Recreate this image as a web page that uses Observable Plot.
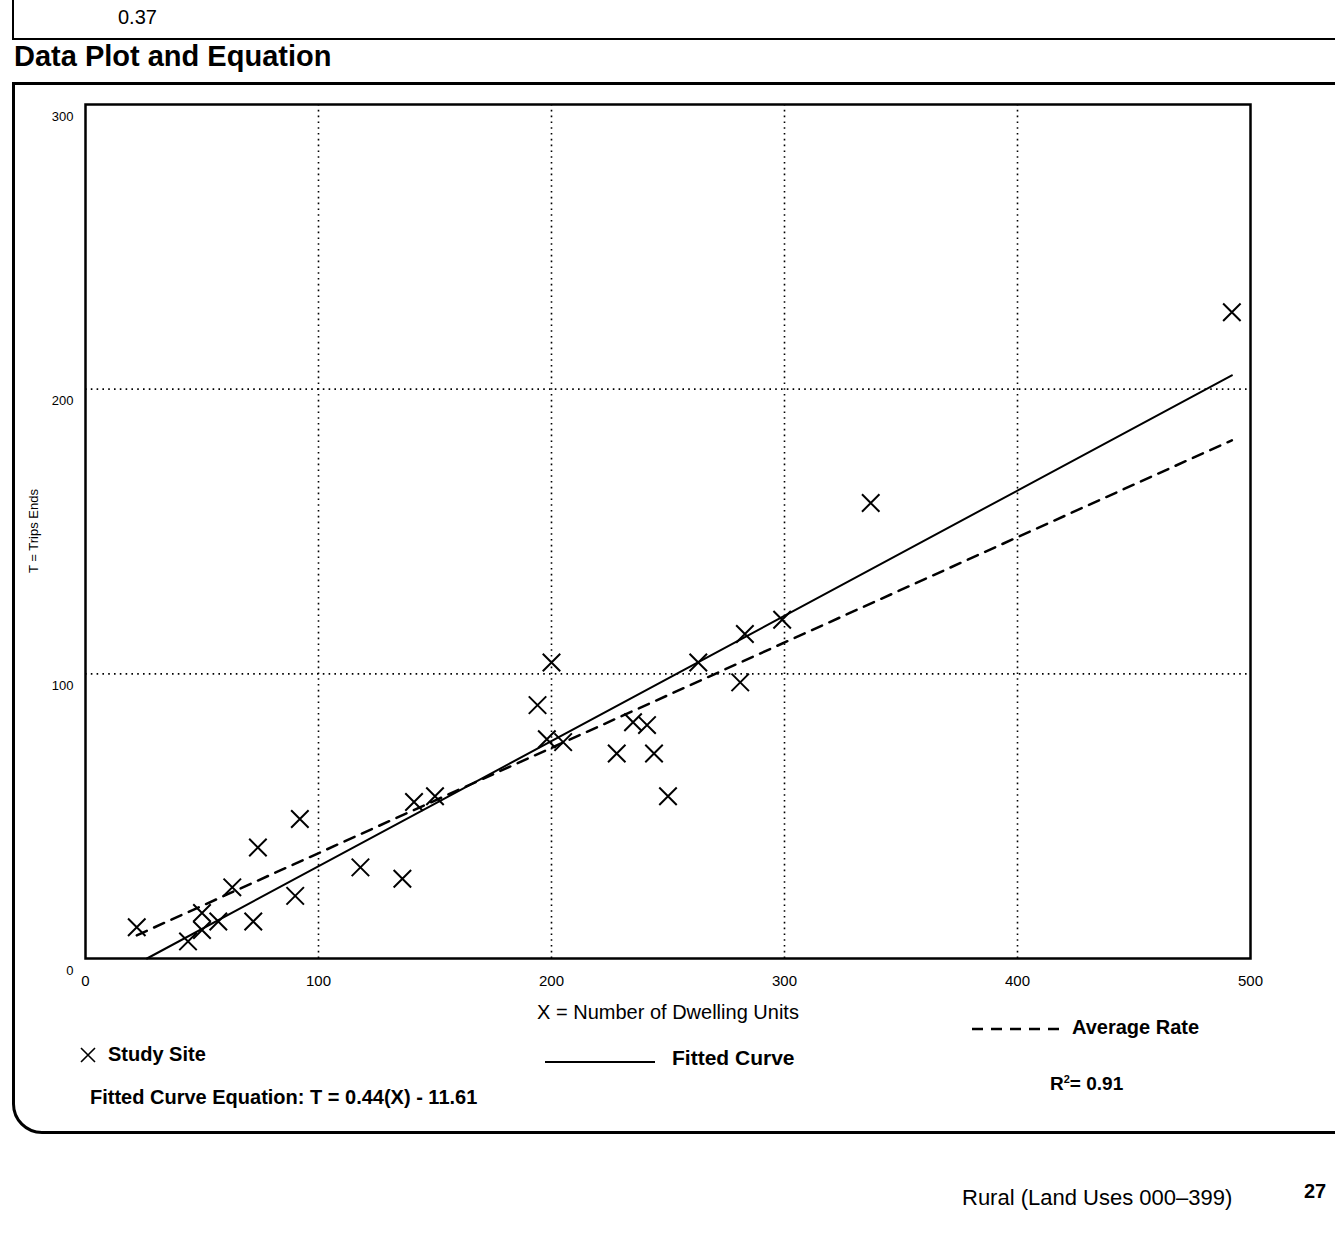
<!DOCTYPE html>
<html>
<head>
<meta charset="utf-8">
<script src="https://cdn.jsdelivr.net/npm/d3@7"></script>
<script src="https://cdn.jsdelivr.net/npm/@observablehq/plot@0.6"></script>
<style>
  html, body { margin: 0; padding: 0; background: #fff; }
  #page { position: relative; width: 1335px; height: 1233px; overflow: hidden; background: #fff;
          font-family: "Liberation Sans", Arial, Helvetica, sans-serif; color: #000; }
  .abs { position: absolute; white-space: nowrap; }
  .b { font-weight: bold; }
</style>
</head>
<body>
<div id="page">
  <div class="abs" style="left:12px;top:0;width:2px;height:40px;background:#000"></div>
  <div class="abs" style="left:12px;top:38px;width:1323px;height:2px;background:#000"></div>
  <div class="abs" id="rateTop" style="left:118px;top:6px;font-size:20px;"></div>
  <div class="abs b" style="left:14px;top:40px;font-size:29px;">Data Plot and Equation</div>
  <div class="abs" style="left:12px;top:82px;width:1400px;height:1046px;border:3px solid #000;border-radius:0 0 0 30px;"></div>
  <div class="abs" id="chart" style="left:0;top:0;"></div>
  <div class="abs" style="left:33px;top:531px;font-size:13px;transform:translate(-50%,-50%) rotate(-90deg);">T = Trips Ends</div>
  <div class="abs" style="left:668px;top:1012px;font-size:20px;transform:translate(-50%,-50%);">X = Number of Dwelling Units</div>
  <div class="abs" style="left:80px;top:1043px;font-size:20px;display:flex;align-items:center;gap:12px;">
    <svg width="16" height="16" viewBox="0 0 16 16"><path d="M1,1L15,15M15,1L1,15" stroke="#000" stroke-width="1.6"/></svg>
    <span class="b">Study Site</span>
  </div>
  <div class="abs" style="left:545px;top:1061px;width:110px;height:2px;background:#000"></div>
  <div class="abs b" style="left:672px;top:1046px;font-size:21px;">Fitted Curve</div>
  <svg class="abs" style="left:972px;top:1026px" width="92" height="6"><line x1="0" y1="3" x2="92" y2="3" stroke="#000" stroke-width="2.5" stroke-dasharray="11,8"/></svg>
  <div class="abs b" style="left:1072px;top:1016px;font-size:20px;">Average Rate</div>
  <div class="abs b" id="r2" style="left:1050px;top:1073px;font-size:19px;"></div>
  <div class="abs b" id="eq" style="left:90px;top:1086px;font-size:20px;"></div>
  <div class="abs" style="left:962px;top:1185px;font-size:22px;">Rural (Land Uses 000–399)</div>
  <div class="abs b" style="left:1304px;top:1180px;font-size:20px;">27</div>
</div>
<script>
// Study sites: X = dwelling units, T = trip ends
const dwellingUnits = [22,44,50,50,57,63,72,74,90,92,118,136,141,150,194,200,198,205,228,235,241,244,250,263,281,283,299,337,492];
const tripEnds      = [11,6,10,16,13,25,13,39,22,49,32,28,55,57,89,104,77,76,72,83,82,72,57,104,97,114,119,160,227];
const fitSlope = 0.44;
const fitIntercept = -11.61;
const averageRate = 0.37;
const rSquared = 0.91;
const xTicks = [0,100,200,300,400,500];
const yTicks = [0,100,200,300];
const xGrid = [100,200,300,400];
const yGrid = [100,200];

const sites = dwellingUnits.map((x, i) => ({x, t: tripEnds[i]}));
const xMin = d3.min(dwellingUnits), xMax = d3.max(dwellingUnits);
const fitStart = Math.max(xMin, -fitIntercept / fitSlope);
const fitLine = [fitStart, xMax].map(x => ({x, t: fitSlope * x + fitIntercept}));
const avgLine = [xMin, xMax].map(x => ({x, t: averageRate * x}));

document.getElementById("rateTop").textContent = averageRate.toFixed(2);
document.getElementById("r2").innerHTML = "R<sup style='font-size:11px'>2</sup>= " + rSquared.toFixed(2);
document.getElementById("eq").textContent = "Fitted Curve Equation: T = " + fitSlope.toFixed(2) + "(X) - " + Math.abs(fitIntercept).toFixed(2);

const chart = Plot.plot({
  width: 1335,
  height: 1010,
  marginLeft: 85,
  marginRight: 85,
  marginTop: 104,
  marginBottom: 52,
  style: {background: "transparent", fontFamily: "Liberation Sans, Arial, sans-serif", color: "#000"},
  x: {domain: [0, 500]},
  y: {domain: [0, 300]},
  marks: [
    Plot.ruleX(xGrid, {x: d => d, stroke: "#000", strokeWidth: 1.6, strokeDasharray: "1.6,4.2"}),
    Plot.ruleY(yGrid, {y: d => d, stroke: "#000", strokeWidth: 1.6, strokeDasharray: "1.6,4.2"}),
    Plot.axisX({ticks: xTicks, tickSize: 0, tickPadding: 17, fontSize: 15, label: null}),
    Plot.axisY({ticks: yTicks, tickSize: 0, tickPadding: 12, dy: 12, fontSize: 13, label: null}),
    Plot.line(avgLine, {x: "x", y: "t", stroke: "#000", strokeWidth: 2.5, strokeDasharray: "11,8"}),
    Plot.line(fitLine, {x: "x", y: "t", stroke: "#000", strokeWidth: 2}),
    Plot.dot(sites, {x: "x", y: "t", symbol: "times", r: 8, stroke: "#000", strokeWidth: 2}),
    Plot.frame({stroke: "#000", strokeWidth: 2.5})
  ]
});
document.getElementById("chart").appendChild(chart);
</script>
</body>
</html>
